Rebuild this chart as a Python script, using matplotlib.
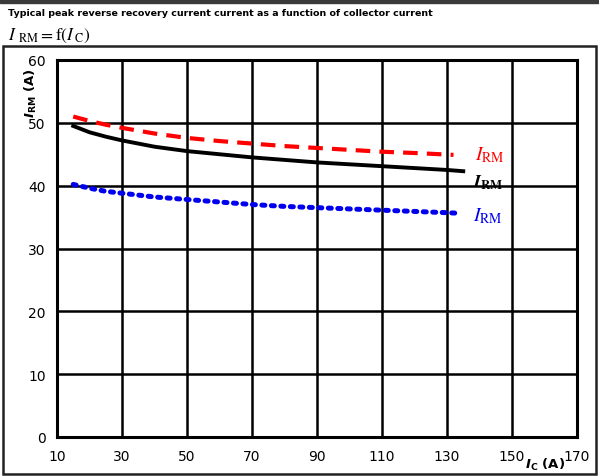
import numpy as np
import matplotlib.pyplot as plt
from matplotlib.patches import Rectangle

plt.rcParams['mathtext.fontset'] = 'stix'

# Collector current (A) and peak reverse recovery current (A)
ic_red = [15, 20, 25, 30, 40, 50, 60, 70, 80, 90, 100, 110, 120, 132]
irm_red = [51.0, 50.3, 49.7, 49.2, 48.3, 47.6, 47.1, 46.7, 46.3, 46.0, 45.7, 45.4, 45.2, 44.9]

ic_black = [15, 20, 25, 30, 40, 50, 60, 70, 80, 90, 100, 110, 120, 130, 135]
irm_black = [49.5, 48.5, 47.8, 47.2, 46.2, 45.5, 45.0, 44.5, 44.1, 43.7, 43.4, 43.1, 42.8, 42.5, 42.3]

ic_blue = [15, 20, 25, 30, 40, 50, 60, 70, 80, 90, 100, 110, 120, 130, 134]
irm_blue = [40.2, 39.6, 39.1, 38.8, 38.2, 37.8, 37.4, 37.0, 36.7, 36.5, 36.3, 36.1, 35.9, 35.7, 35.6]

xticks = np.arange(10, 171, 20)
yticks = np.arange(0, 61, 10)

fig = plt.figure(figsize=(5.99, 4.77), dpi=100)

# header band, title and outer frame
fig.patches.append(Rectangle((0, 1 - 4/477), 1, 4/477, transform=fig.transFigure,
                             color='#3a3a3a', zorder=0))
fig.text(8/599, 1 - 13/477, "Typical peak reverse recovery current current as a function of collector current",
         fontsize=6.8, fontweight='bold', va='center', ha='left')
fig.text(8/599, 1 - 36/477, r"$I\ _{\mathrm{RM}} = \mathrm{f}(I\,_{\mathrm{C}})$",
         fontsize=12.5, va='center', ha='left')
fig.patches.append(Rectangle((3/599, 2/477), 593/599, 428/477, transform=fig.transFigure,
                             fill=False, edgecolor='#222222', linewidth=1.8, zorder=0))

ax = fig.add_axes([57/599, 39/477, 520/599, 377/477])

ax.plot(ic_red, irm_red, color='red', linestyle=(0, (3.5, 2.2)), linewidth=3)
ax.plot(ic_black, irm_black, color='black', linestyle='-', linewidth=2.8)
ax.plot(ic_blue, irm_blue, color='#0000ee', linestyle=(0, (0.6, 1.3)), linewidth=3.6,
        dash_capstyle='round')

ax.text(138.5, 45.0, r"$I_{\mathrm{RM}}$", color='red', fontsize=14, va='center')
ax.text(138, 40.6, r"$\mathbfit{I}_{\mathbf{RM}}$", color='black', fontsize=13, va='center')
ax.text(138, 35.3, r"$I_{\mathrm{RM}}$", color='#0000ee', fontsize=14, va='center')

ax.set_xlim(10, 170)
ax.set_ylim(0, 60)
ax.set_xticks(xticks)
ax.set_yticks(yticks)
ax.grid(True, color='black', linewidth=1.8)
ax.set_axisbelow(True)
for s in ax.spines.values():
    s.set_linewidth(2.2)
ax.tick_params(length=0, labelsize=10, pad=8)
ax.tick_params(axis='x', pad=9)

ax.set_ylabel(r"$\bfit{I}_{\mathbf{RM}}$ (A)", fontsize=9.5, fontweight='bold',
              math_fontfamily='dejavusans')
ax.yaxis.set_label_coords(-0.035, 0.915)
fig.text(545/599, 1 - 465/477, r"$\bfit{I}_{\mathbf{C}}$ (A)", fontsize=9.5,
         fontweight='bold', ha='center', va='center', math_fontfamily='dejavusans')

fig.savefig("out.png", dpi=100)
